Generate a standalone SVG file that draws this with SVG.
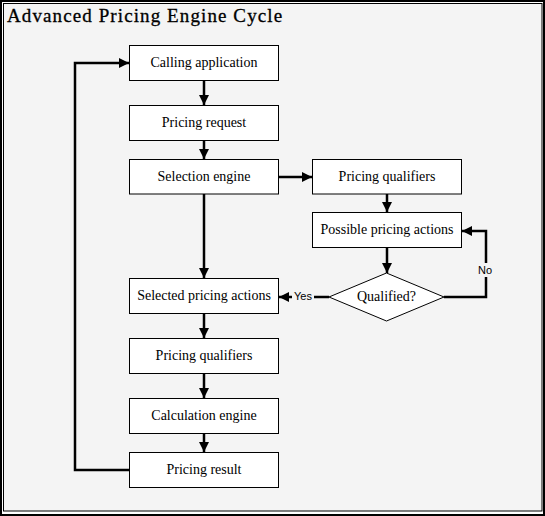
<svg xmlns="http://www.w3.org/2000/svg" width="545" height="516" viewBox="0 0 545 516">
<defs>
<marker id="ah" viewBox="0 0 10 10" refX="10" refY="5" markerWidth="4" markerHeight="4" markerUnits="strokeWidth" orient="auto">
<path d="M0,0 L10,5 L0,10 z" fill="#000"/>
</marker>
<style>
.box{fill:#fff;stroke:#000;stroke-width:1}
.c{fill:none;stroke:#000;stroke-width:2.5;marker-end:url(#ah)}
.cn{fill:none;stroke:#000;stroke-width:2.5}
</style>
</defs>
<rect x="0" y="0" width="545" height="516" fill="#fff"/>
<rect x="1" y="1" width="543" height="514" fill="none" stroke="#000" stroke-width="2"/>
<rect x="3.5" y="3.5" width="538.5" height="507.5" fill="#f4f4f4" stroke="#000" stroke-width="1"/>
<text x="7" y="22" font-family="Liberation Serif, serif" font-size="19" letter-spacing="1.1" stroke="#000" stroke-width="0.3" fill="#000">Advanced Pricing Engine Cycle</text>

<g id="connectors">
<path class="c" d="M204,81 V105"/>
<path class="c" d="M204,141 V159"/>
<path class="c" d="M279,177 H312"/>
<path class="c" d="M204,194 V278"/>
<path class="c" d="M387,194 V212"/>
<path class="c" d="M387,248 V273"/>
<path class="c" d="M444,297 H486 V231 H462"/>
<path class="cn" d="M329,297 H314"/>
<path class="c" d="M292,297 H279"/>
<path class="c" d="M204,314 V338"/>
<path class="c" d="M204,374 V398"/>
<path class="c" d="M204,434 V452"/>
<path class="c" d="M129,470 H75 V63 H129"/>
<rect x="478" y="263" width="16" height="14" fill="#f4f4f4"/>
<text font-family="Liberation Sans, sans-serif" font-size="11" text-anchor="middle" x="485" y="274">No</text>
<text font-family="Liberation Sans, sans-serif" font-size="11" text-anchor="middle" x="303" y="300">Yes</text>
</g>

<g font-family="Liberation Serif, serif" font-size="14" text-anchor="middle" fill="#000">
<g id="calling-application"><rect class="box" x="129.5" y="45.5" width="149" height="35"/><text x="204" y="67">Calling application</text></g>
<g id="pricing-request"><rect class="box" x="129.5" y="105.5" width="149" height="35"/><text x="204" y="127">Pricing request</text></g>
<g id="selection-engine"><rect class="box" x="129.5" y="159.5" width="149" height="34.5"/><text x="204" y="181">Selection engine</text></g>
<g id="pricing-qualifiers-1"><rect class="box" x="312.5" y="159.5" width="149" height="34.5"/><text x="387" y="181">Pricing qualifiers</text></g>
<g id="possible-pricing-actions"><rect class="box" x="312.5" y="212.5" width="149" height="35"/><text x="387" y="234">Possible pricing actions</text></g>
<g id="qualified"><polygon class="box" points="386.5,273 444,297 386.5,321 329,297"/><text x="386.5" y="301">Qualified?</text></g>
<g id="selected-pricing-actions"><rect class="box" x="129.5" y="278.5" width="149" height="35"/><text x="204" y="300">Selected pricing actions</text></g>
<g id="pricing-qualifiers-2"><rect class="box" x="129.5" y="338.5" width="149" height="35"/><text x="204" y="360">Pricing qualifiers</text></g>
<g id="calculation-engine"><rect class="box" x="129.5" y="398.5" width="149" height="35"/><text x="204" y="420">Calculation engine</text></g>
<g id="pricing-result"><rect class="box" x="129.5" y="452.5" width="149" height="35"/><text x="204" y="474">Pricing result</text></g>
</g>
</svg>
